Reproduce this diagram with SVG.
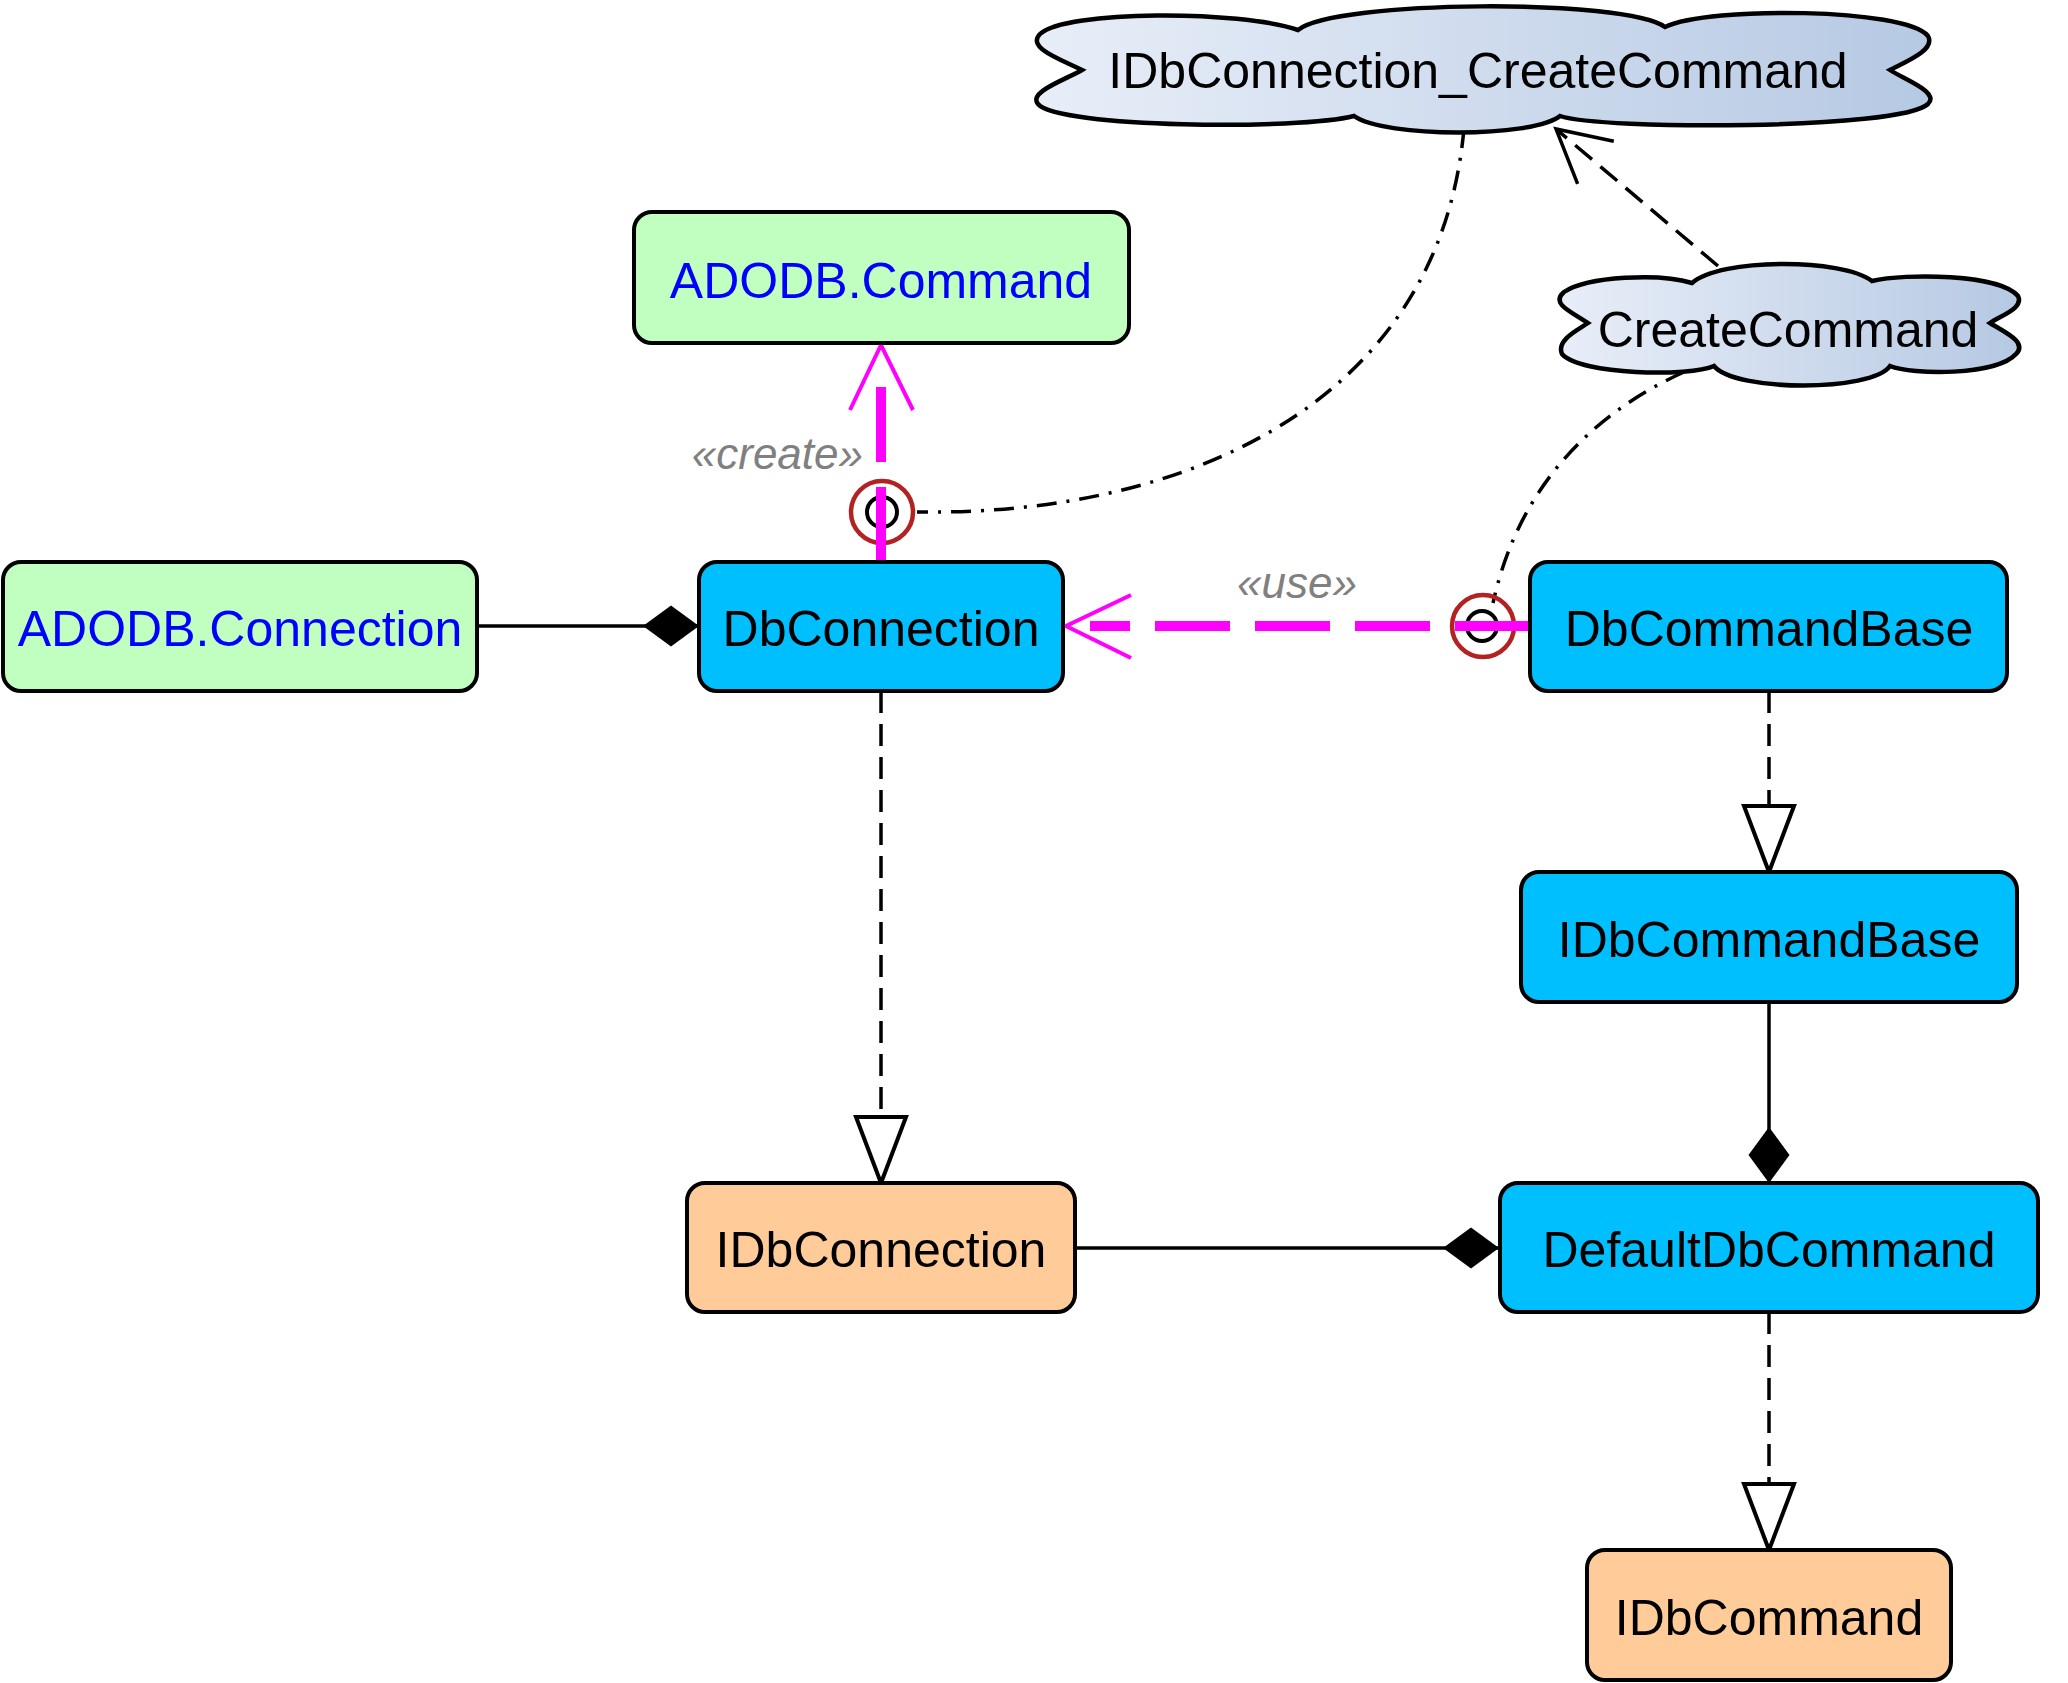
<svg xmlns="http://www.w3.org/2000/svg" width="2068" height="1683" viewBox="0 0 2068 1683">
<style>
.box{stroke:#000;stroke-width:4}
.green{fill:#C0FFC0}
.blue{fill:#00BFFF}
.orange{fill:#FFCC99}
.cloud{fill:url(#cloudGrad);stroke:#000;stroke-width:4.5}
.lbl{font-family:"Liberation Sans",Arial,sans-serif;font-size:50px;text-anchor:middle;fill:#000}
.lnk{fill:#0000FF}
.line{stroke:#000;stroke-width:3.5;fill:none}
.dash{stroke-dasharray:22 11}
.dashdot{stroke-dasharray:20 10 3 10}
.mag{stroke:#FF00FF;stroke-width:10;stroke-dasharray:75 25;fill:none}
.mhead{stroke:#FF00FF;stroke-width:4;fill:none}
.ring{stroke:#B22222;stroke-width:4.5;fill:none}
.port{stroke:#000;stroke-width:4;fill:none}
.stereo{font-family:"Liberation Sans",Arial,sans-serif;font-style:italic;font-size:44px;fill:#808080}
</style>
<defs>
<linearGradient id="cloudGrad" x1="0" y1="0" x2="1" y2="0">
<stop offset="0" stop-color="#E8EEF8"/>
<stop offset="1" stop-color="#B6C9E3"/>
</linearGradient>
<marker id="tri" markerUnits="userSpaceOnUse" markerWidth="70" markerHeight="54" refX="66" refY="25" orient="auto" overflow="visible">
<path d="M0,0 L66,25 L0,50 Z" fill="#fff" stroke="#000" stroke-width="4" stroke-dasharray="none" stroke-linejoin="miter"/>
</marker>
<marker id="dia" markerUnits="userSpaceOnUse" markerWidth="58" markerHeight="44" refX="56" refY="20.5" orient="auto" overflow="visible">
<path d="M0,20.5 L28,0 L56,20.5 L28,41 Z" fill="#000" stroke="none"/>
</marker>
<marker id="vopen" markerUnits="userSpaceOnUse" markerWidth="56" markerHeight="60" refX="52" refY="28" orient="auto" overflow="visible">
<path d="M0,0 L52,28 L0,56" fill="none" stroke="#000" stroke-width="3.5" stroke-dasharray="none"/>
</marker>
</defs>
<rect width="2068" height="1683" fill="#fff"/>

<g id="connectors">
<line class="line" x1="477" y1="626" x2="699" y2="626" marker-end="url(#dia)"/>
<line class="line" x1="1075" y1="1248" x2="1499" y2="1248" marker-end="url(#dia)"/>
<line class="line" x1="1769" y1="1002" x2="1769" y2="1183" marker-end="url(#dia)"/>
<line class="line dash" x1="881" y1="691" x2="881" y2="1183" marker-end="url(#tri)"/>
<line class="line dash" x1="1769" y1="691" x2="1769" y2="872" marker-end="url(#tri)"/>
<line class="line dash" x1="1769" y1="1312" x2="1769" y2="1550" marker-end="url(#tri)"/>
<line class="line dash" x1="1718" y1="266" x2="1556" y2="129" marker-end="url(#vopen)"/>
<path class="line dashdot" d="M1464,128 C1440,400 1190,516 917,512"/>
<path class="line dashdot" d="M1684,372 C1600,410 1520,480 1493,603"/>
<circle class="ring" cx="882" cy="512" r="31"/>
<circle class="port" cx="882" cy="512" r="15"/>
<circle class="ring" cx="1483" cy="626" r="31"/>
<circle class="port" cx="1482" cy="626" r="15"/>
<line class="mag" x1="881" y1="562" x2="881" y2="387"/>
<path class="mhead" d="M850,410 L881,345 L913,410"/>
<text class="stereo" x="863" y="469" text-anchor="end">«create»</text>
<line class="mag" x1="1530" y1="626" x2="1090" y2="626"/>
<path class="mhead" d="M1131,595 L1066,626 L1131,658"/>
<text class="stereo" x="1297" y="598" text-anchor="middle">«use»</text>
</g>

<g id="node-ADODB-Command">
<rect class="box green" x="634" y="212" width="495" height="131" rx="18"/>
<text class="lbl lnk" x="881" y="298">ADODB.Command</text>
</g>
<g id="node-ADODB-Connection">
<rect class="box green" x="3" y="562" width="474" height="129" rx="18"/>
<text class="lbl lnk" x="240" y="646">ADODB.Connection</text>
</g>
<g id="node-DbConnection">
<rect class="box blue" x="699" y="562" width="364" height="129" rx="18"/>
<text class="lbl" x="881" y="646">DbConnection</text>
</g>
<g id="node-DbCommandBase">
<rect class="box blue" x="1530" y="562" width="477" height="129" rx="18"/>
<text class="lbl" x="1769" y="646">DbCommandBase</text>
</g>
<g id="node-IDbCommandBase">
<rect class="box blue" x="1521" y="872" width="496" height="130" rx="18"/>
<text class="lbl" x="1769" y="957">IDbCommandBase</text>
</g>
<g id="node-IDbConnection">
<rect class="box orange" x="687" y="1183" width="388" height="129" rx="18"/>
<text class="lbl" x="881" y="1267">IDbConnection</text>
</g>
<g id="node-DefaultDbCommand">
<rect class="box blue" x="1500" y="1183" width="538" height="129" rx="18"/>
<text class="lbl" x="1769" y="1267">DefaultDbCommand</text>
</g>
<g id="node-IDbCommand">
<rect class="box orange" x="1587" y="1550" width="364" height="130" rx="18"/>
<text class="lbl" x="1769" y="1635">IDbCommand</text>
</g>
<g id="node-IDbConnection_CreateCommand">
<path class="cloud" d="M1082,70 C1062,60 1026,48 1040,34 C1065,10 1240,10 1298,30 C1335,0 1625,-2 1665,27 C1710,6 1905,8 1928,36 C1936,50 1905,62 1890,70 C1905,80 1940,92 1928,104 C1900,130 1600,130 1560,116 C1532,138 1385,138 1354,116 C1300,130 1058,128 1038,104 C1028,92 1065,80 1082,70 Z"/>
<text class="lbl" x="1478" y="88">IDbConnection_CreateCommand</text>
</g>
<g id="node-CreateCommand">
<path class="cloud" d="M1588,323 C1572,312 1550,304 1564,292 C1588,276 1660,273 1692,283 C1720,258 1842,258 1872,281 C1905,273 2000,274 2018,296 C2024,308 2002,315 1990,323 C2004,332 2028,342 2016,354 C1996,376 1912,375 1890,366 C1872,392 1735,392 1714,366 C1690,377 1580,375 1562,354 C1556,340 1578,330 1588,323 Z"/>
<text class="lbl" x="1788" y="347">CreateCommand</text>
</g>
</svg>
